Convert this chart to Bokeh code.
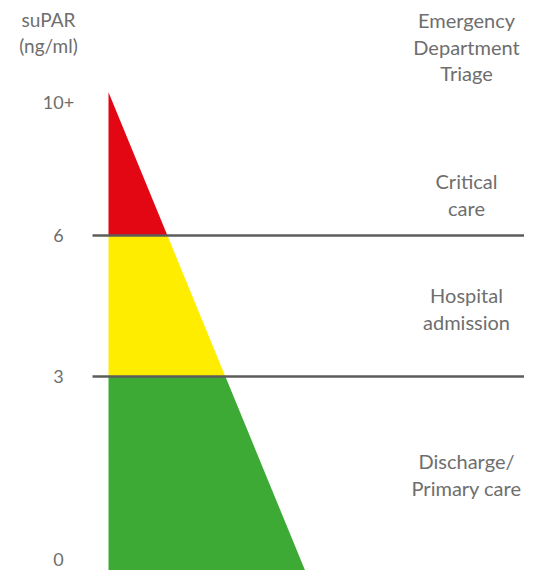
from bokeh.plotting import figure
from bokeh.embed import file_html
from bokeh.resources import INLINE
from bokeh.core.properties import value

# ---- data ----
thresholds = [3, 6]                       # suPAR cut-offs (ng/ml)
tick_values = [0, 3, 6, 10]
tick_labels = ["0", "3", "6", "10+"]
band_names = ["Discharge/\nPrimary care", "Hospital\nadmission", "Critical\ncare"]
band_colors = ["#3DAA35", "#FFED00", "#E30613"]
column_title = "Emergency\nDepartment\nTriage"
axis_title = "suPAR\n(ng/ml)"

# ---- layout (schematic display scale) ----
# display position of the tick values (scale is schematic, not linear)
disp = {0: -0.90, 3: 3.0, 6: 6.0, 10: 8.83}
apex = 9.05          # top of the wedge
bottom = -1.6        # below the visible area
slope = 0.411        # wedge width per display unit
def edge(y):
    return slope * (apex - y)

W, H = 524, 570
p = figure(width=W, height=H, x_range=(-2.298, 8.851), y_range=(-1.128, 11.0),
           output_backend="svg", toolbar_location=None, min_border=0,
           outline_line_color=None)
p.axis.visible = False
p.grid.visible = False
p.background_fill_color = "white"
p.border_fill_color = "white"

# bands of the wedge
levels = [bottom, disp[thresholds[0]], disp[thresholds[1]], apex]
xs, ys = [], []
for i in range(3):
    y0, y1 = levels[i], levels[i + 1]
    xs.append([0, edge(y0), edge(y1), 0])
    ys.append([y0, y0, y1, y1])
p.patches(xs, ys, fill_color=band_colors, line_color=None)

# threshold lines
tx = [disp[t] for t in thresholds]
p.segment(x0=[-0.34] * 2, y0=tx, x1=[9.2] * 2, y1=tx,
          line_color="#5C5C5C", line_width=2.5)

font = value("Lato")
txt_color = "#6E6E6E"
LH = 1.1

# tick labels
p.text(x=[-1.064] * len(tick_values), y=[disp[v] for v in tick_values], text=tick_labels,
       text_font=font, text_font_size="18px", text_color=txt_color,
       text_align="center", text_baseline="middle")

# axis title
p.text(x=[-1.277], y=[10.32], text=[axis_title], text_font=font,
       text_font_size="19px", text_color=txt_color, text_align="center",
       text_baseline="middle", text_line_height=LH)

# column title
p.text(x=[7.617], y=[10.02], text=[column_title], text_font=font,
       text_font_size="20px", text_color=txt_color, text_align="center",
       text_baseline="middle", text_line_height=LH)

# band labels
p.text(x=[7.617] * 3, y=[0.915, 4.45, 6.87], text=band_names, text_font=font,
       text_font_size="20px", text_color=txt_color, text_align="center",
       text_baseline="middle", text_line_height=LH)

open("out.html", "w").write(file_html(p, INLINE))
